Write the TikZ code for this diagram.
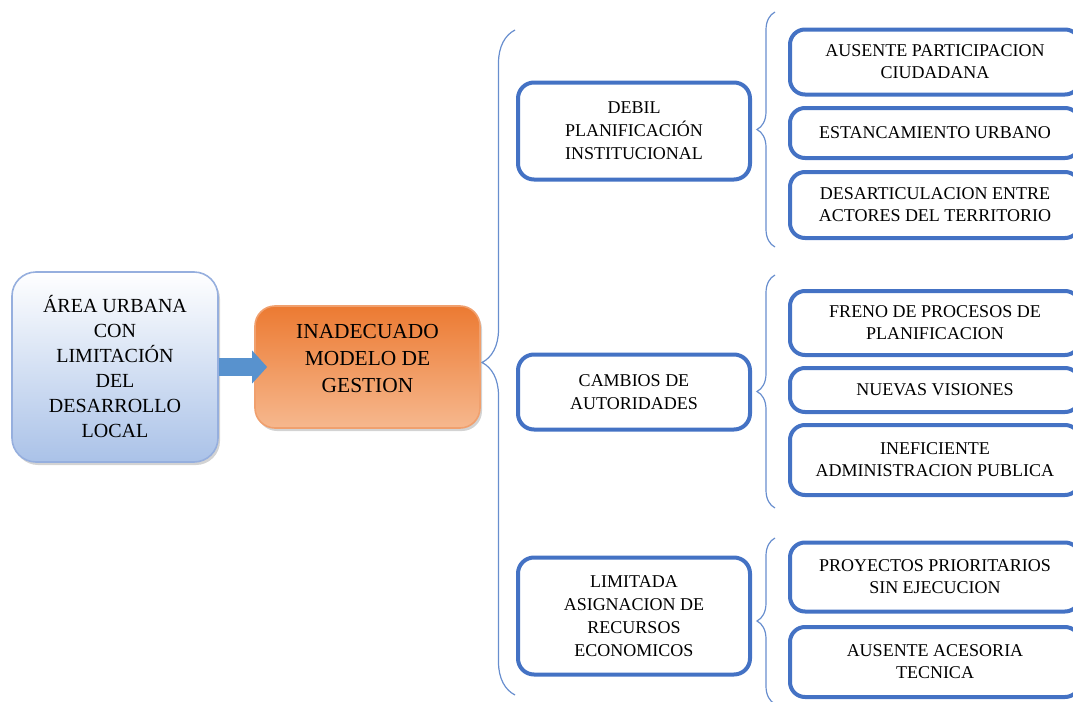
\documentclass[tikz,border=0pt]{standalone}
\usepackage{fontspec}
\setmainfont{Liberation Serif}
\usetikzlibrary{arrows.meta,decorations.pathreplacing,shadows}

\definecolor{boxblue}{RGB}{68,114,196}
\definecolor{bracecol}{RGB}{104,142,206}
\definecolor{orangetop}{RGB}{236,122,50}
\definecolor{orangebot}{RGB}{246,184,142}
\definecolor{orangeline}{RGB}{240,160,110}
\definecolor{skybot}{RGB}{170,194,232}
\definecolor{skyline}{RGB}{150,175,222}
\definecolor{arrowblue}{RGB}{88,146,206}

\begin{document}
\begin{tikzpicture}[x=0.5pt, y=-0.5pt,
	every node/.style={align=center, inner sep=0pt, text=black},
	rootbox/.style={draw=skyline, line width=0.8pt, rounded corners=12pt, top color=white, bottom color=skybot,
		minimum width=103pt, minimum height=95pt, drop shadow={opacity=0.35, shadow xshift=1pt, shadow yshift=-1.5pt},
		font=\fontsize{10}{12.5}\selectfont},
	problembox/.style={draw=orangeline, line width=0.8pt, rounded corners=10pt, top color=orangetop, middle color=orangetop!92!orangebot, bottom color=orangebot,
		minimum width=112.5pt, minimum height=61pt, drop shadow={opacity=0.35, shadow xshift=1pt, shadow yshift=-1.5pt},
		font=\fontsize{10.7}{13.5}\selectfont},
	cause/.style={draw=boxblue, line width=2pt, rounded corners=8pt, fill=white, minimum width=116pt,
		font=\fontsize{9}{11.5}\selectfont},
	effect/.style={draw=boxblue, line width=2pt, rounded corners=7.5pt, fill=white, minimum width=145pt,
		font=\fontsize{9}{11}\selectfont},
	curly/.style={draw=bracecol, line width=0.6pt, decorate, decoration={brace, amplitude=#1}},
	bigarrow/.style={draw=arrowblue, line width=9pt, -{Triangle[length=7.5pt, width=16pt]}}]

	\useasboundingbox (0,0) rectangle (1073,702);
	\clip (0,0) rectangle (1073,702);

	% braces
	\coordinate (b0s) at (515,695);
	\coordinate (b0e) at (515,30);
	\coordinate (b1s) at (775,247);
	\coordinate (b1e) at (775,12);
	\coordinate (b2s) at (775,508);
	\coordinate (b2e) at (775,275);
	\coordinate (b3s) at (775,704);
	\coordinate (b3e) at (775,538);
	\draw[curly=16.5pt] (b0s) -- (b0e);
	\draw[curly=9pt] (b1s) -- (b1e);
	\draw[curly=9pt] (b2s) -- (b2e);
	\draw[curly=9pt] (b3s) -- (b3e);

	% main boxes
	\node[rootbox] (area) at (115,367) {ÁREA URBANA\\CON\\LIMITACIÓN\\DEL\\DESARROLLO\\LOCAL};
	\node[problembox] (modelo) at (367.5,367) {INADECUADO\\MODELO DE\\GESTION\\[-4.5pt]\mbox{}};
	\draw[bigarrow] (area.east) -- ([xshift=6.5pt]modelo.west);

	% causes
	\node[cause, minimum height=48.5pt] (debil) at (634,131) {DEBIL\\PLANIFICACIÓN\\INSTITUCIONAL};
	\node[cause, minimum height=37.5pt] (cambios) at (634,392) {CAMBIOS DE\\AUTORIDADES};
	\node[cause, minimum height=58.5pt] (limitada) at (634,616) {LIMITADA\\ASIGNACION DE\\RECURSOS\\ECONOMICOS};

	% effects
	\node[effect, minimum height=32.5pt] (ausente) at (935,62) {AUSENTE PARTICIPACION\\CIUDADANA};
	\node[effect, minimum height=25pt] (estanc) at (935,133) {ESTANCAMIENTO URBANO};
	\node[effect, minimum height=33pt] (desart) at (935,205) {DESARTICULACION ENTRE\\ACTORES DEL TERRITORIO};
	\node[effect, minimum height=32pt] (freno) at (935,323) {FRENO DE PROCESOS DE\\PLANIFICACION};
	\node[effect, minimum height=22pt] (nuevas) at (935,390) {NUEVAS VISIONES};
	\node[effect, minimum height=35pt] (inefic) at (935,460) {INEFICIENTE\\ADMINISTRACION PUBLICA};
	\node[effect, minimum height=34.5pt] (proyect) at (935,577) {PROYECTOS PRIORITARIOS\\SIN EJECUCION};
	\node[effect, minimum height=35pt] (acesor) at (935,662) {AUSENTE ACESORIA\\TECNICA};
\end{tikzpicture}
\end{document}
